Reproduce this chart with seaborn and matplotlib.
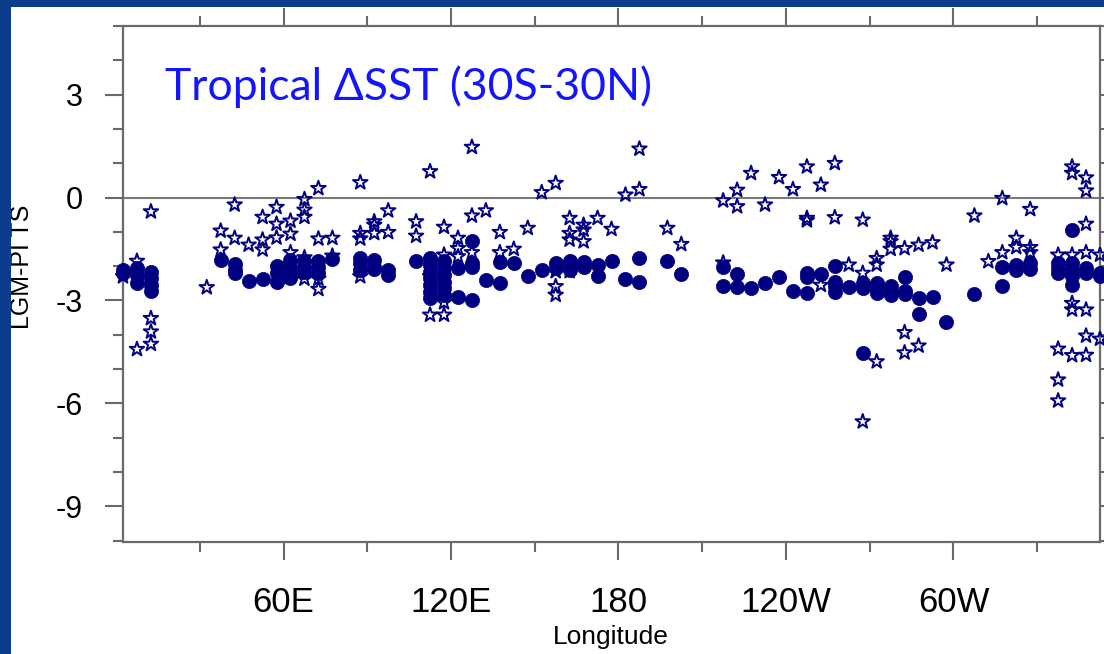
import numpy as np
import pandas as pd
import matplotlib
matplotlib.use("Agg")
import matplotlib.pyplot as plt
from matplotlib.patches import Rectangle
from matplotlib.ticker import FixedLocator, MultipleLocator
import seaborn as sns

# ---- data: values per longitude column (degrees east) ----
circle_cols = {
    2.5: [-2.1, -2.2],
    7.5: [-2.06, -2.25, -2.48],
    12.5: [-2.16, -2.35, -2.55, -2.71],
    37.5: [-1.82],
    42.5: [-1.95, -2.1, -2.2],
    47.5: [-2.42],
    52.5: [-2.37],
    57.5: [-1.99, -2.2, -2.45],
    62.5: [-1.82, -2.01, -2.2, -2.35],
    67.5: [-1.86, -2.01, -2.16],
    72.5: [-1.86, -2.01, -2.2],
    77.5: [-1.8],
    87.5: [-1.77, -1.91, -2.11],
    92.5: [-1.82, -2.01, -2.08],
    97.5: [-2.11, -2.25],
    107.5: [-1.86],
    112.5: [-1.77, -1.96, -2.16, -2.35, -2.55, -2.74, -2.93],
    117.5: [-1.86, -2.06, -2.25, -2.45, -2.64, -2.84],
    122.5: [-2.06, -2.89],
    127.5: [-1.28, -1.91, -2.03, -3.0],
    132.5: [-2.4],
    137.5: [-1.89, -2.5],
    142.5: [-1.91],
    147.5: [-2.3],
    152.5: [-2.11],
    157.5: [-1.9, -2.05],
    162.5: [-1.86, -1.96, -2.11],
    167.5: [-1.89, -2.01],
    172.5: [-1.96, -2.28],
    177.5: [-1.84],
    182.5: [-2.38],
    187.5: [-1.75, -2.45],
    197.5: [-1.86],
    202.5: [-2.22],
    217.5: [-2.01, -2.59],
    222.5: [-2.22, -2.61],
    227.5: [-2.64],
    232.5: [-2.48],
    237.5: [-2.32],
    242.5: [-2.71],
    247.5: [-2.2, -2.32, -2.77],
    252.5: [-2.22],
    257.5: [-1.99, -2.45, -2.59, -2.74],
    262.5: [-2.61],
    267.5: [-2.5, -2.64, -4.52],
    272.5: [-2.5, -2.64, -2.79],
    277.5: [-2.59, -2.74, -2.84],
    282.5: [-2.32, -2.71, -2.81],
    287.5: [-2.93, -3.39],
    292.5: [-2.9],
    297.5: [-3.64],
    307.5: [-2.81],
    317.5: [-2.01, -2.59],
    322.5: [-1.96, -2.11],
    327.5: [-1.91, -2.09],
    337.5: [-1.91, -2.06, -2.2],
    342.5: [-0.94, -1.91, -2.11, -2.3, -2.55],
    347.5: [-2.04, -2.2],
    352.5: [-2.2, -2.3],
}

star_cols = {
    2.5: [-2.3],
    7.5: [-1.85, -4.42],
    12.5: [-0.41, -3.52, -3.91, -4.27],
    32.5: [-2.62],
    37.5: [-0.97, -1.52],
    42.5: [-0.21, -1.18],
    47.5: [-1.38],
    52.5: [-0.57, -1.23, -1.52],
    57.5: [-0.28, -0.77, -1.17],
    62.5: [-0.68, -1.06, -1.6],
    67.5: [-0.05, -0.36, -0.57, -1.75, -2.37],
    72.5: [0.27, -1.2, -2.37, -2.67],
    77.5: [-1.18, -1.7],
    87.5: [0.44, -1.04, -1.2, -2.3],
    92.5: [-0.7, -0.8, -1.04],
    97.5: [-0.38, -1.01],
    107.5: [-0.7, -1.12],
    112.5: [0.76, -2.3, -3.42],
    117.5: [-0.86, -1.67, -3.06, -3.42],
    122.5: [-1.18, -1.48, -1.72],
    127.5: [1.47, -0.53, -1.6],
    132.5: [-0.38],
    137.5: [-1.01, -1.6],
    142.5: [-1.5],
    147.5: [-0.89],
    152.5: [0.15],
    157.5: [0.42, -2.15, -2.59, -2.84],
    162.5: [-0.6, -1.04, -1.23, -2.15],
    167.5: [-0.8, -0.94, -1.28],
    172.5: [-0.6],
    177.5: [-0.92],
    182.5: [0.08],
    187.5: [1.42, 0.24],
    197.5: [-0.89],
    202.5: [-1.36],
    217.5: [-0.09, -1.9],
    222.5: [0.22, -0.26],
    227.5: [0.71],
    232.5: [-0.21],
    237.5: [0.59],
    242.5: [0.24],
    247.5: [0.9, -0.6, -0.67],
    252.5: [0.37, -2.55],
    257.5: [1.0, -0.58],
    262.5: [-1.96],
    267.5: [-0.65, -2.2, -6.53],
    272.5: [-1.77, -1.96, -4.78],
    277.5: [-1.18, -1.28, -1.5],
    282.5: [-1.48, -3.93, -4.52],
    287.5: [-1.38, -4.32],
    292.5: [-1.31],
    297.5: [-1.96],
    307.5: [-0.53],
    312.5: [-1.86],
    317.5: [-0.02, -1.6],
    322.5: [-1.18, -1.45],
    327.5: [-0.34, -1.45, -1.6],
    337.5: [-1.67, -4.41, -5.31, -5.92],
    342.5: [0.9, 0.71, -1.67, -3.08, -3.27, -4.6],
    347.5: [0.58, 0.2, -0.77, -1.6, -3.27, -4.03, -4.59],
    352.5: [-1.67, -4.12],
}

x_ticks = [60, 120, 180, 240, 300]
x_tick_labels = ["60E", "120E", "180", "120W", "60W"]
y_ticks = [3, 0, -3, -6, -9]
title = "Tropical \u0394SST (30S-30N)"


def flatten(cols):
    lon, val = [], []
    for k, vs in cols.items():
        for v in vs:
            lon.append(k)
            val.append(v)
    return pd.DataFrame({"lon": lon, "val": val})


circ = flatten(circle_cols)
star = flatten(star_cols)

sns.set_theme(style="white")
plt.rcParams["font.family"] = ["Liberation Sans", "DejaVu Sans"]
plt.rcParams["axes.unicode_minus"] = False

W, H = 1104, 654
fig = plt.figure(figsize=(W / 100, H / 100), dpi=100)
fig.patch.set_facecolor("white")

ax = fig.add_axes([123 / W, 1 - 541.7 / H, (1100 - 123) / W, (541.7 - 26) / H])
ax.set_facecolor("white")

navy = "#000080"
gray = "#6a6a6a"

ax.axhline(0, color="#7a7a7a", lw=1.5, zorder=1)

sns.scatterplot(data=circ, x="lon", y="val", ax=ax, marker="o", s=105,
                color=navy, edgecolor=navy, linewidth=0.5, zorder=3,
                clip_on=False, legend=False)
sns.scatterplot(data=star, x="lon", y="val", ax=ax, marker="*", s=120,
                color=navy, linewidth=1.4, zorder=4, clip_on=False,
                legend=False)
pts = ax.collections[-1]
pts.set_facecolor("none")
pts.set_edgecolor(navy)
pts.set_linewidth(1.4)

ax.set_xlim(2.5, 352.5)
ax.set_ylim(-10.03, 5.0)
ax.xaxis.set_major_locator(FixedLocator(x_ticks))
ax.set_xticklabels(x_tick_labels)
ax.xaxis.set_minor_locator(FixedLocator([30, 90, 150, 210, 270, 330]))
ax.yaxis.set_major_locator(FixedLocator(y_ticks))
ax.yaxis.set_minor_locator(MultipleLocator(1))

for s in ax.spines.values():
    s.set_visible(True)
    s.set_color(gray)
    s.set_linewidth(1.6)

ax.tick_params(which="both", direction="out", color=gray, width=1.5,
               top=True, right=True, bottom=True, left=True,
               labeltop=False, labelright=False)
ax.tick_params(which="major", length=13)
ax.tick_params(which="minor", length=7)
ax.tick_params(axis="x", which="major", labelsize=25, pad=19, labelcolor="black")
ax.tick_params(axis="y", which="major", labelsize=22, pad=16, labelcolor="black")

ax.set_xlabel("")
ax.set_ylabel("")

fig.text(611 / W, 1 - 637 / H, "Longitude", fontsize=19, ha="center",
         va="center", color="black")
fig.text(22 / W, 1 - 267 / H, "LGM-PI TS", rotation=90, fontsize=18,
         ha="center", va="center", color="black")

fig.text(165 / W, 1 - 100 / H, title, color="#1414ff", fontsize=32,
         family=["Lato", "DejaVu Sans"], ha="left", va="baseline")

# blue frame on top and left
border = "#0b3d8c"
fig.add_artist(Rectangle((0, 0), 11 / W, 1, transform=fig.transFigure,
                         facecolor=border, edgecolor="none", zorder=20))
fig.add_artist(Rectangle((0, 1 - 7 / H), 1, 7 / H, transform=fig.transFigure,
                         facecolor=border, edgecolor="none", zorder=20))

fig.savefig("out.png", dpi=100, facecolor=fig.get_facecolor())
